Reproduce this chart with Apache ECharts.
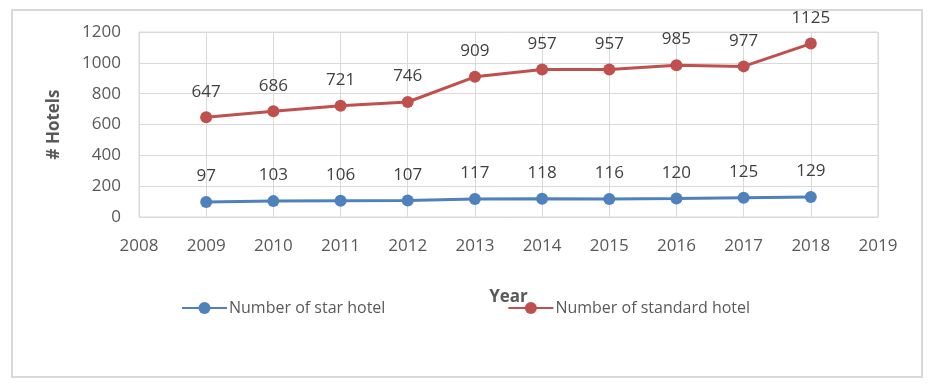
<!DOCTYPE html>
<html>
<head>
<meta charset="utf-8">
<script src="https://cdn.jsdelivr.net/npm/echarts@6/dist/echarts.min.js"></script>
<style>
  html, body { margin: 0; padding: 0; background: #fff; }
  #chart { width: 933px; height: 388px; }
</style>
</head>
<body>
<div id="chart"></div>
<script>
const years = [2009, 2010, 2011, 2012, 2013, 2014, 2015, 2016, 2017, 2018];
const starHotel = [97, 103, 106, 107, 117, 118, 116, 120, 125, 129];
const standardHotel = [647, 686, 721, 746, 909, 957, 957, 985, 977, 1125];
const seriesNames = ["Number of star hotel", "Number of standard hotel"];

const font = "'Open Sans', 'Noto Sans', sans-serif";
const toPairs = (vals) => vals.map((v, i) => [years[i], v]);

let myChart = echarts.init(document.getElementById("chart"));

myChart.setOption({
  animation: false,
  textStyle: { fontFamily: font },
  graphic: [
    {
      type: "rect",
      shape: { x: 12, y: 10, width: 910, height: 367 },
      style: { fill: "none", stroke: "#d9d9d9", lineWidth: 2 },
      silent: true,
    },
  ],
  grid: {
    left: 139,
    right: 55,
    top: 32,
    bottom: 171,
    show: true,
    borderColor: "#d9d9d9",
    borderWidth: 1,
  },
  legend: {
    left: 176,
    top: 295,
    itemWidth: 45,
    itemHeight: 15,
    itemGap: 122,
    textStyle: { fontFamily: font, fontSize: 16, color: "#595959", padding: [0, 0, 0, -3] },
    data: seriesNames,
  },
  xAxis: {
    type: "value",
    min: 2008,
    max: 2019,
    interval: 1,
    name: "Year",
    nameLocation: "middle",
    nameGap: 72,
    nameTextStyle: { fontFamily: font, fontSize: 17, fontWeight: "bold", color: "#595959" },
    axisLine: { show: false },
    axisTick: { show: false },
    axisLabel: { fontSize: 17, color: "#595959", margin: 21, formatter: (v) => String(v) },
    splitLine: { lineStyle: { color: "#d9d9d9", width: 1 } },
  },
  yAxis: {
    type: "value",
    min: 0,
    max: 1200,
    interval: 200,
    name: "# Hotels",
    nameLocation: "middle",
    nameGap: 76,
    nameTextStyle: { fontFamily: font, fontSize: 17, fontWeight: "bold", color: "#595959" },
    axisLine: { show: false },
    axisTick: { show: false },
    axisLabel: { fontSize: 17, color: "#595959", margin: 18, formatter: (v) => String(v) },
    splitLine: { lineStyle: { color: "#d9d9d9", width: 1 } },
  },
  series: [
    {
      name: seriesNames[0],
      type: "line",
      data: toPairs(starHotel),
      symbol: "circle",
      symbolSize: 12,
      lineStyle: { color: "#4f81bd", width: 3 },
      itemStyle: { color: "#4f81bd" },
      label: {
        show: true,
        position: "top",
        distance: 11,
        fontSize: 17,
        color: "#404040",
        formatter: (p) => p.value[1],
      },
    },
    {
      name: seriesNames[1],
      type: "line",
      data: toPairs(standardHotel),
      symbol: "circle",
      symbolSize: 12,
      lineStyle: { color: "#c0504d", width: 3 },
      itemStyle: { color: "#c0504d" },
      label: {
        show: true,
        position: "top",
        distance: 11,
        fontSize: 17,
        color: "#404040",
        formatter: (p) => p.value[1],
      },
    },
  ],
});
window.addEventListener("resize", function () {
  myChart.resize();
});
</script>
</body>
</html>
